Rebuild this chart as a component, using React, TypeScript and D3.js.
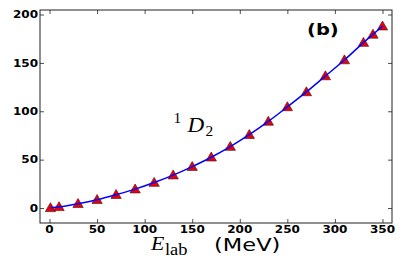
import * as d3 from 'd3';
import React, { useEffect, useRef } from 'react';

// Lab energies (MeV) and 1D2 values
const energies = [1, 10, 30, 50, 70, 90, 110, 130, 150, 170, 190, 210, 230, 250, 270, 290, 310, 330, 340, 350];
const phases = [0.2, 1.2, 4.5, 8.6, 13.8, 19.5, 26.3, 34, 42.8, 52.5, 63.5, 75.8, 89.5, 104.5, 120, 136.5, 153, 171, 179.5, 188];
const xTicks = [0, 50, 100, 150, 200, 250, 300, 350];
const yTicks = [0, 50, 100, 150, 200];

function App() {
    const chartRef = useRef<SVGSVGElement>(null);

    useEffect(() => {
        const width = 409;
        const height = 267;
        const margin = { top: 10, right: 17, bottom: 44, left: 40 };

        const svg = d3.select(chartRef.current);
        svg.selectAll('*').remove();
        svg.attr('width', width).attr('height', height);

        const data = energies.map((e, i) => ({ e, v: phases[i] }));

        const x = d3.scaleLinear()
            .domain([-10, 360])
            .range([margin.left, width - margin.right]);
        const y = d3.scaleLinear()
            .domain([-15.5, 204.7])
            .range([height - margin.bottom, margin.top]);

        const x0 = margin.left;
        const x1 = width - margin.right;
        const y0 = height - margin.bottom;
        const y1 = margin.top;

        // inward ticks on all four sides
        svg.append('g')
            .attr('transform', `translate(0,${y0})`)
            .call(d3.axisBottom(x).tickValues(xTicks).tickSize(-4).tickFormat(() => ''))
            .call((g) => g.select('.domain').remove());
        svg.append('g')
            .attr('transform', `translate(0,${y1})`)
            .call(d3.axisTop(x).tickValues(xTicks).tickSize(-4).tickFormat(() => ''))
            .call((g) => g.select('.domain').remove());
        svg.append('g')
            .attr('transform', `translate(${x0},0)`)
            .call(d3.axisLeft(y).tickValues(yTicks).tickSize(-4).tickFormat(() => ''))
            .call((g) => g.select('.domain').remove());
        svg.append('g')
            .attr('transform', `translate(${x1},0)`)
            .call(d3.axisRight(y).tickValues(yTicks).tickSize(-4).tickFormat(() => ''))
            .call((g) => g.select('.domain').remove());
        svg.selectAll('.tick line').attr('stroke', '#222').attr('stroke-width', 0.8);

        // text helper, horizontally stretched like the source image
        const label = (tx: number, ty: number, txt: string, anchor: string, size: number, weight: string, family: string, sx: number, italic = false) => {
            svg.append('g')
                .attr('transform', `translate(${tx},${ty}) scale(${sx},1)`)
                .append('text')
                .attr('text-anchor', anchor)
                .attr('font-family', family)
                .attr('font-size', size)
                .attr('font-weight', weight)
                .attr('font-style', italic ? 'italic' : 'normal')
                .attr('fill', '#000')
                .text(txt);
        };

        xTicks.forEach((t) => label(x(t), 232.5, String(t), 'middle', 10, 'bold', 'DejaVu Sans', 1.2));
        yTicks.forEach((t) => label(38, y(t) + 3.6, String(t), 'end', 10, 'bold', 'DejaVu Sans', 1.2));

        // curve
        const line = d3.line<{ e: number; v: number }>()
            .curve(d3.curveMonotoneX)
            .x((d) => x(d.e))
            .y((d) => y(d.v));

        // triangle markers
        svg.append('g')
            .selectAll('path')
            .data(data)
            .join('path')
            .attr('transform', (d) => `translate(${x(d.e)},${y(d.v) + 0.8})`)
            .attr('d', d3.symbol().type(d3.symbolTriangle).size(46)())
            .attr('fill', '#e8000b')
            .attr('stroke', '#5a1a1a')
            .attr('stroke-width', 0.7);

        svg.append('path')
            .datum(data)
            .attr('fill', 'none')
            .attr('stroke', '#0000ff')
            .attr('stroke-width', 1.5)
            .attr('d', line);

        // frame
        svg.append('rect')
            .attr('x', x0)
            .attr('y', y1)
            .attr('width', x1 - x0)
            .attr('height', y0 - y1)
            .attr('fill', 'none')
            .attr('stroke', '#222')
            .attr('stroke-width', 1);

        // panel tag
        label(307, 35, '(b)', 'start', 16.5, 'bold', 'DejaVu Sans', 1.18);

        // series label ^1 D_2
        label(173.5, 122.7, '1', 'start', 14, 'normal', 'Liberation Serif', 1.1);
        label(187.5, 131.7, 'D', 'start', 21, 'normal', 'Liberation Serif', 1.1, true);
        label(205.5, 136, '2', 'start', 14, 'normal', 'Liberation Serif', 1.1);

        // axis title E_lab (MeV)
        label(151, 250, 'E', 'start', 19, 'normal', 'Liberation Serif', 1.15, true);
        label(165, 254.5, 'lab', 'start', 16, 'normal', 'Liberation Serif', 1.15);
        label(214, 251, '(MeV)', 'start', 18.5, 'normal', 'DejaVu Sans', 1.22);
    }, []);

    return (
        <div id="d3-phase-chart">
            <svg ref={chartRef} style={{ position: 'absolute', left: 0, top: 0 }} />
        </div>
    );
}

export default App;
